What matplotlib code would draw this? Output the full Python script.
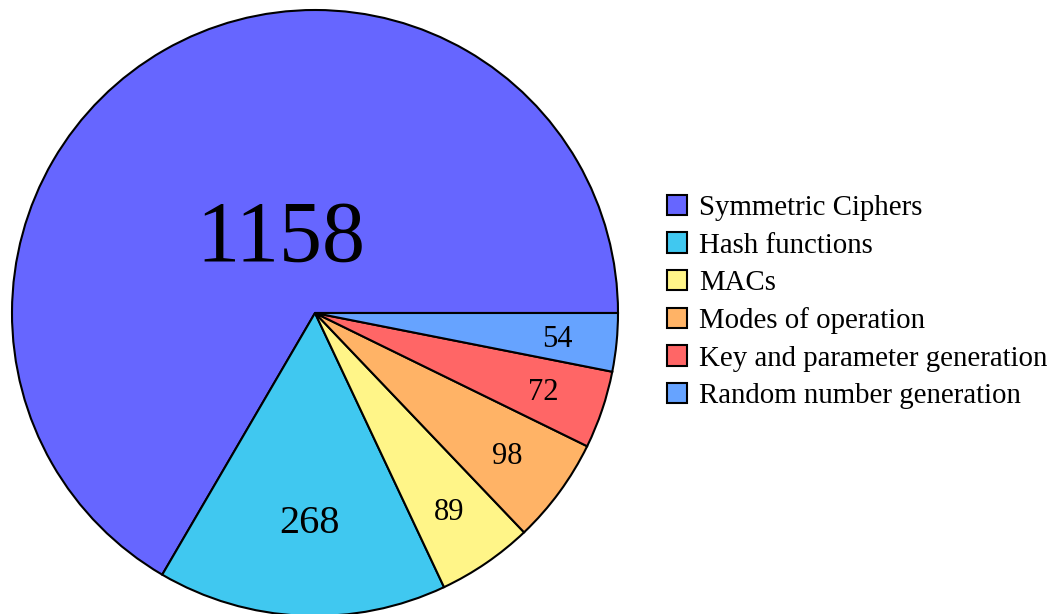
import numpy as np
import matplotlib
matplotlib.use('Agg')
import matplotlib.pyplot as plt
from matplotlib.patches import Patch

categories = ["Symmetric Ciphers", "Hash functions", "MACs", "Modes of operation",
              "Key and parameter generation", "Random number generation"]
counts = [1158, 268, 89, 98, 72, 54]
colors = ["#6666ff", "#40c8f0", "#fff588", "#ffb366", "#ff6666", "#66a3ff"]
label_sizes = [62, 29, 22, 22, 22, 22]
label_dist = [0.275, 0.685, 0.785, 0.785, 0.795, 0.805]
label_shift = [-6, 1, 0, 0, 0, 0]  # degrees

plt.rcParams['font.family'] = ['Liberation Serif', 'DejaVu Serif']

W, H = 1056, 614
fig = plt.figure(figsize=(W / 100, H / 100), dpi=100)
cx, cy, R = 315, 313, 303
ax = fig.add_axes([(cx - R) / W, (H - cy - R) / H, 2 * R / W, 2 * R / H])

wedges, _ = ax.pie(counts, colors=colors, startangle=0, counterclock=True,
                   wedgeprops=dict(edgecolor='black', linewidth=1.5))
ax.set_xlim(-1, 1)
ax.set_ylim(-1, 1)
ax.set_aspect('equal')
ax.axis('off')

for w, n, fs, d, s in zip(wedges, counts, label_sizes, label_dist, label_shift):
    ang = np.deg2rad((w.theta1 + w.theta2) / 2 + s)
    ax.text(d * np.cos(ang), d * np.sin(ang) - 0.01, str(n), ha='center', va='center',
            fontsize=fs)

handles = [Patch(facecolor=c, edgecolor='black', linewidth=1.5) for c in colors]
fig.legend(handles, categories, loc='center left', bbox_to_anchor=(667 / W, 1 - 302 / H),
           frameon=False, fontsize=20.8, handlelength=0.7, handleheight=0.7,
           handletextpad=0.4, labelspacing=0.39, borderpad=0, borderaxespad=0)

fig.savefig('out.png', dpi=100)
